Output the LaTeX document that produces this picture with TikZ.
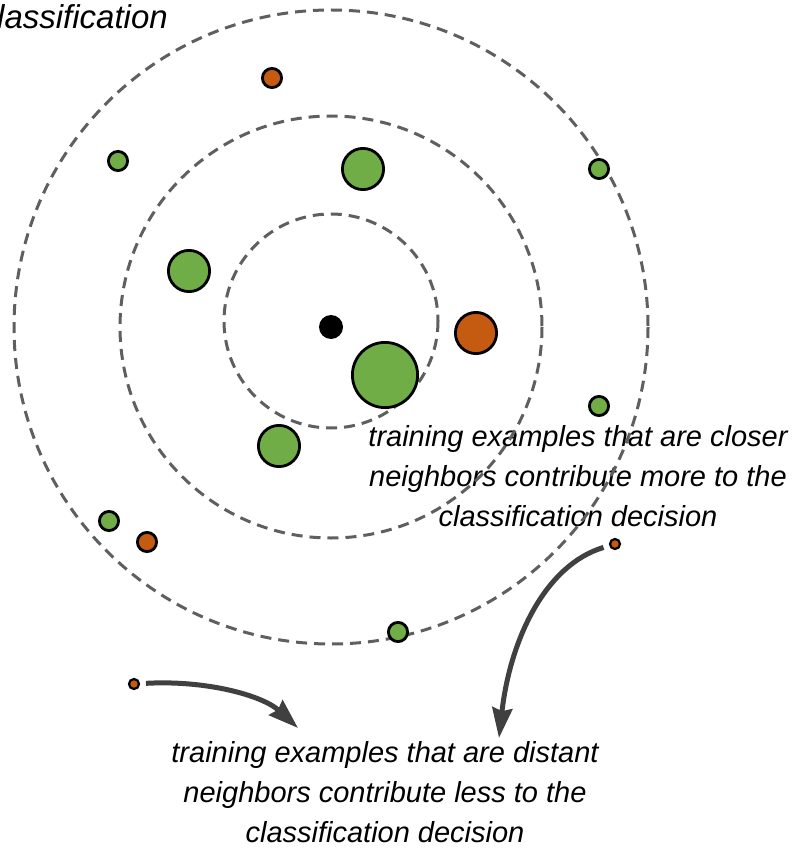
\documentclass[tikz,border=0pt]{standalone}
\usepackage{fontspec}
\setmainfont{Liberation Sans}
\usetikzlibrary{arrows.meta}
\definecolor{ptgreen}{HTML}{70AD47}
\definecolor{ptorange}{HTML}{C55A11}
\definecolor{ringgray}{HTML}{5F5F5F}
\definecolor{arrowgray}{HTML}{404040}
\begin{document}
\begin{tikzpicture}[x=1pt,y=-1pt,
  pt/.style={circle, draw=black, line width=2.8pt, inner sep=0pt, outer sep=0pt},
  smallpt/.style={pt, minimum size=19.2pt},
  mediumpt/.style={pt, minimum size=41.2pt},
  largept/.style={pt, minimum size=65.2pt},
  tinypt/.style={pt, line width=2.2pt, minimum size=10pt, fill=ptorange},
  greenpt/.style={fill=ptgreen},
  orangept/.style={fill=ptorange},
  querypt/.style={circle, fill=black, inner sep=0pt, minimum size=24pt},
  ring/.style={draw=ringgray, line width=3pt, dash pattern=on 11pt off 7pt},
  label/.style={font=\itshape\fontsize{29}{40}\selectfont, align=center, inner sep=0pt},
  pointer/.style={draw=arrowgray, line width=5pt,
    -{Stealth[length=30pt, width=20pt, inset=3pt]}},
]
\useasboundingbox (0,0) rectangle (793,848);

% heading, running off the left edge
\node[anchor=base west, inner sep=0pt, font=\itshape\fontsize{33}{38}\selectfont]
  (heading) at (-3,29) {lassification};

% explanatory labels
\node[label] (closeText) at (578,476)
  {training examples that are closer\\neighbors contribute more to the\\classification decision};
\node[label] (farText) at (385,792)
  {training examples that are distant\\neighbors contribute less to the\\classification decision};

% query point and distance rings
\node[querypt] (query) at (331,327) {};
\draw[ring] ([yshift=6pt]query.center) circle[radius=107];
\draw[ring] (query) circle[radius=211];
\draw[ring] (query) circle[radius=317];

% training examples
\node[smallpt, orangept] (o1) at (272,78) {};
\node[smallpt, greenpt] (g1) at (118,161) {};
\node[mediumpt, greenpt] (g2) at (363,169) {};
\node[smallpt, greenpt] (g3) at (599,169) {};
\node[mediumpt, greenpt] (g4) at (189,271) {};
\node[mediumpt, orangept] (o2) at (476,333) {};
\node[largept, greenpt] (g5) at (385,375) {};
\node[smallpt, greenpt] (g6) at (599,406) {};
\node[mediumpt, greenpt] (g7) at (279,446) {};
\node[smallpt, greenpt] (g8) at (109,521) {};
\node[smallpt, orangept] (o3) at (147,542) {};
\node[smallpt, greenpt] (g9) at (398,632) {};

% legend markers and their pointers
\node[tinypt] (nearMark) at (615,544) {};
\node[tinypt] (farMark) at (134,684) {};
\coordinate (nearTip) at (499,738);
\coordinate (farTip) at (298,728);

\draw[pointer, shorten <=7pt] (nearMark) .. controls (545,565) and (510,640) .. (nearTip);
\draw[pointer, shorten <=7pt] (farMark) .. controls (205,680) and (262,695) .. (farTip);
\end{tikzpicture}
\end{document}
